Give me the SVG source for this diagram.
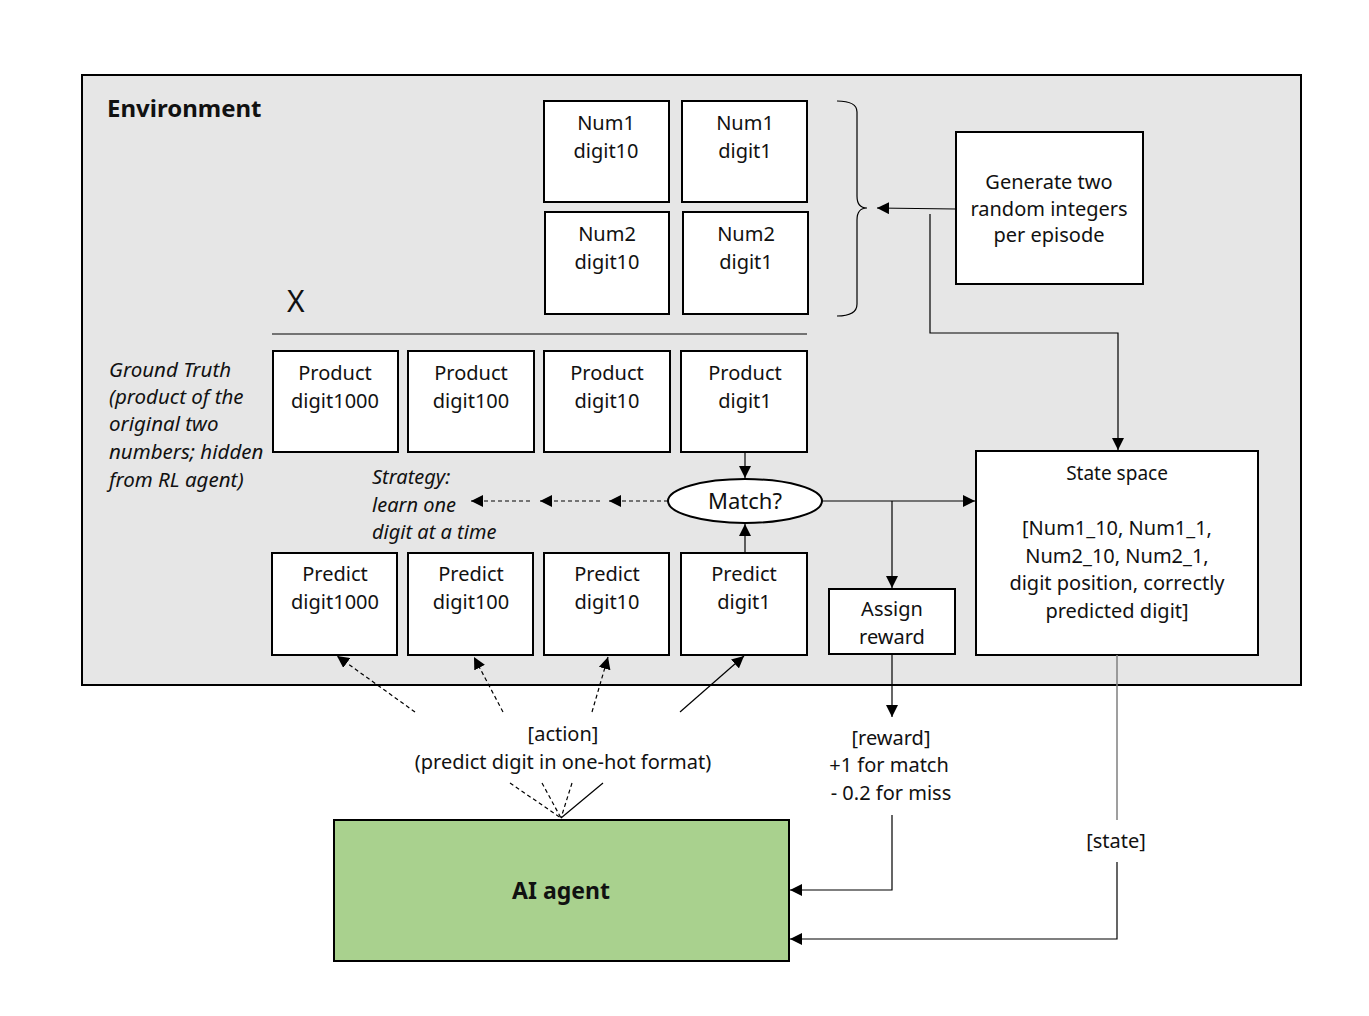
<svg xmlns="http://www.w3.org/2000/svg" width="1369" height="1016" viewBox="0 0 1369 1016">
<defs>
<marker id="ah" viewBox="0 0 10 10" refX="10" refY="5" markerWidth="12" markerHeight="12" markerUnits="userSpaceOnUse" orient="auto"><path d="M0,0 L10,5 L0,10 z" fill="#000"/></marker>
<style>
text{font-family:"Noto Sans","Open Sans","DejaVu Sans",sans-serif;font-size:20px;fill:#111;}
.c{text-anchor:middle;}
.i{font-style:italic;}
.box{fill:#fff;stroke:#000;stroke-width:2;}
.ln{fill:none;stroke:#000;stroke-width:1.2;}
.dl{fill:none;stroke:#000;stroke-width:1.2;stroke-dasharray:4 3;}
</style>
</defs>
<rect width="1369" height="1016" fill="#fff"/>
<g id="environment">
<rect x="82" y="75" width="1219" height="610" fill="#e6e6e6" stroke="#000" stroke-width="2"/>
<text x="107" y="117" style="font-weight:bold;font-size:24px">Environment</text>
</g>
<g id="num1-d10"><rect class="box" x="544" y="101" width="125" height="101"/><text class="c" x="606" y="130">Num1</text><text class="c" x="606" y="158">digit10</text></g>
<g id="num1-d1"><rect class="box" x="682" y="101" width="125" height="101"/><text class="c" x="745" y="130">Num1</text><text class="c" x="745" y="158">digit1</text></g>
<g id="num2-d10"><rect class="box" x="545" y="212" width="124" height="102"/><text class="c" x="607" y="241">Num2</text><text class="c" x="607" y="269">digit10</text></g>
<g id="num2-d1"><rect class="box" x="683" y="212" width="125" height="102"/><text class="c" x="746" y="241">Num2</text><text class="c" x="746" y="269">digit1</text></g>
<g id="brace"><path class="ln" d="M837,101 Q857,101 857,112 L857,196 Q857,208 867,208 Q857,208 857,220 L857,304 Q857,316 837,316"/></g>
<g id="generate"><rect class="box" x="956" y="132" width="187" height="152"/><text class="c" x="1049" y="189">Generate two</text><text class="c" x="1049" y="216">random integers</text><text class="c" x="1049" y="242">per episode</text></g>
<g id="multiply"><text x="287" y="312" style="font-size:30px">X</text><line x1="272" y1="334" x2="807" y2="334" stroke="#000" stroke-width="1.2"/></g>
<g id="ground-truth" style="font-size:20.5px"><text class="i" x="109" y="377" style="font-size:20.5px">Ground Truth</text><text class="i" x="109" y="404" style="font-size:20.5px">(product of the</text><text class="i" x="109" y="431" style="font-size:20.5px">original two</text><text class="i" x="109" y="459" style="font-size:20.5px">numbers; hidden</text><text class="i" x="109" y="487" style="font-size:20.5px">from RL agent)</text></g>
<g id="prod-1000"><rect class="box" x="273" y="351" width="125" height="101"/><text class="c" x="335" y="380">Product</text><text class="c" x="335" y="408">digit1000</text></g>
<g id="prod-100"><rect class="box" x="408" y="351" width="126" height="101"/><text class="c" x="471" y="380">Product</text><text class="c" x="471" y="408">digit100</text></g>
<g id="prod-10"><rect class="box" x="544" y="351" width="126" height="101"/><text class="c" x="607" y="380">Product</text><text class="c" x="607" y="408">digit10</text></g>
<g id="prod-1"><rect class="box" x="681" y="351" width="126" height="101"/><text class="c" x="745" y="380">Product</text><text class="c" x="745" y="408">digit1</text></g>
<g id="strategy"><text class="i" x="372" y="484">Strategy:</text><text class="i" x="372" y="512">learn one</text><text class="i" x="372" y="539">digit at a time</text></g>
<g id="match"><ellipse cx="745" cy="501" rx="77" ry="22" fill="#fff" stroke="#000" stroke-width="2"/><text class="c" x="745" y="509" style="font-size:22px">Match?</text></g>
<g id="pred-1000"><rect class="box" x="272" y="553" width="125" height="102"/><text class="c" x="335" y="581">Predict</text><text class="c" x="335" y="609">digit1000</text></g>
<g id="pred-100"><rect class="box" x="408" y="553" width="125" height="102"/><text class="c" x="471" y="581">Predict</text><text class="c" x="471" y="609">digit100</text></g>
<g id="pred-10"><rect class="box" x="544" y="553" width="125" height="102"/><text class="c" x="607" y="581">Predict</text><text class="c" x="607" y="609">digit10</text></g>
<g id="pred-1"><rect class="box" x="681" y="553" width="126" height="102"/><text class="c" x="744" y="581">Predict</text><text class="c" x="744" y="609">digit1</text></g>
<g id="assign"><rect class="box" x="829" y="589" width="126" height="65"/><text class="c" x="892" y="616">Assign</text><text class="c" x="892" y="644">reward</text></g>
<g id="state-space"><rect class="box" x="976" y="451" width="282" height="204"/><text class="c" x="1117" y="480" style="font-size:19px">State space</text><text class="c" x="1117" y="535">[Num1_10, Num1_1,</text><text class="c" x="1117" y="563">Num2_10, Num2_1,</text><text class="c" x="1117" y="590">digit position, correctly</text><text class="c" x="1117" y="618">predicted digit]</text></g>
<g id="ai-agent"><rect x="334" y="820" width="455" height="141" fill="#a9d18e" stroke="#000" stroke-width="2"/><text class="c" x="561" y="899" style="font-weight:bold;font-size:23px">AI agent</text></g>
<g id="labels">
<text class="c" x="563" y="741">[action]</text>
<text class="c" x="563" y="769">(predict digit in one-hot format)</text>
<text class="c" x="891" y="745">[reward]</text>
<text class="c" x="889" y="772">+1 for match</text>
<text class="c" x="891" y="800"> - 0.2 for miss</text>
<text class="c" x="1116" y="848">[state]</text>
</g>
<g id="connectors">
<line class="ln" x1="956" y1="209" x2="877" y2="208" marker-end="url(#ah)"/>
<polyline class="ln" points="930,214 930,333 1118,333 1118,450" marker-end="url(#ah)"/>
<line class="ln" x1="745" y1="452" x2="745" y2="478" marker-end="url(#ah)"/>
<line class="ln" x1="745" y1="553" x2="745" y2="524" marker-end="url(#ah)"/>
<line class="dl" x1="668" y1="501" x2="609" y2="501" marker-end="url(#ah)"/>
<line class="dl" x1="600" y1="501" x2="540" y2="501" marker-end="url(#ah)"/>
<line class="dl" x1="530" y1="501" x2="471" y2="501" marker-end="url(#ah)"/>
<line class="ln" x1="822" y1="501" x2="975" y2="501" marker-end="url(#ah)"/>
<line class="ln" x1="892" y1="501" x2="892" y2="588" marker-end="url(#ah)"/>
<line class="ln" x1="892" y1="654" x2="892" y2="717" marker-end="url(#ah)"/>
<polyline class="ln" points="892,815 892,890 790,890" marker-end="url(#ah)"/>
<line x1="1117" y1="655" x2="1117" y2="820" stroke="#7f7f7f" stroke-width="1.5"/>
<polyline class="ln" points="1117,862 1117,939 790,939" marker-end="url(#ah)"/>
<line class="dl" x1="415" y1="712" x2="337" y2="656" marker-end="url(#ah)"/>
<line class="dl" x1="503" y1="712" x2="474" y2="657" marker-end="url(#ah)"/>
<line class="dl" x1="592" y1="712" x2="608" y2="657" marker-end="url(#ah)"/>
<line class="ln" x1="680" y1="712" x2="744" y2="656" marker-end="url(#ah)"/>
<line class="dl" x1="510" y1="783" x2="561" y2="818"/>
<line class="dl" x1="542" y1="783" x2="561" y2="818"/>
<line class="dl" x1="572" y1="783" x2="561" y2="818"/>
<line class="ln" x1="603" y1="783" x2="561" y2="818"/>
</g>
</svg>
